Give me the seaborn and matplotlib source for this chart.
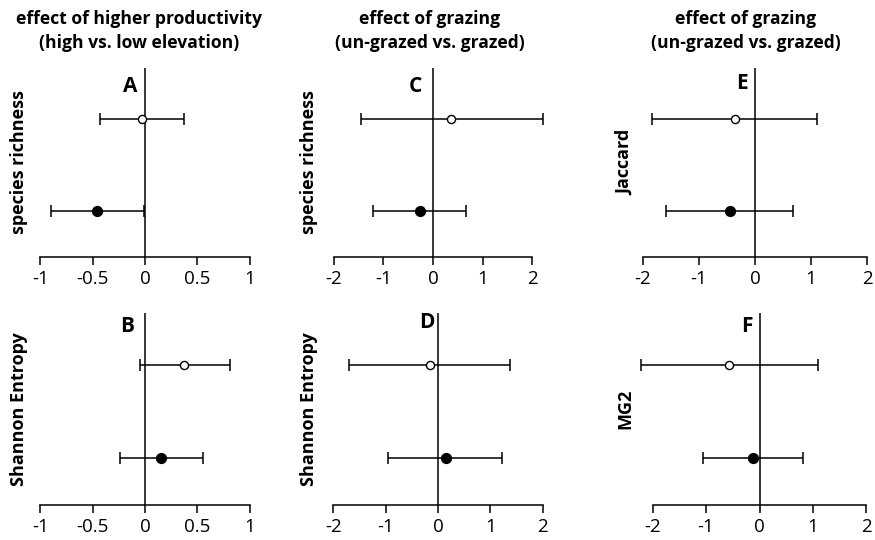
import numpy as np
import pandas as pd
import matplotlib
matplotlib.use('Agg')
import matplotlib.pyplot as plt
import seaborn as sns

# effect sizes with CI, one entry per panel (A..F)
panels = ['A', 'B', 'C', 'D', 'E', 'F']
ylabels = ['species richness', 'Shannon Entropy', 'species richness',
           'Shannon Entropy', 'Jaccard', 'MG2']
titles = ['effect of higher productivity\n(high vs. low elevation)',
          'effect of grazing\n(un-grazed vs. grazed)',
          'effect of grazing\n(un-grazed vs. grazed)']

# upper row of each panel: open circle
open_est = [-0.03, 0.37, 0.36, -0.15, -0.36, -0.57]
open_lo = [-0.43, -0.05, -1.45, -1.70, -1.83, -2.21]
open_hi = [0.37, 0.81, 2.22, 1.37, 1.11, 1.10]
# lower row of each panel: filled circle
filled_est = [-0.46, 0.15, -0.26, 0.15, -0.45, -0.12]
filled_lo = [-0.90, -0.24, -1.21, -0.96, -1.58, -1.05]
filled_hi = [-0.01, 0.55, 0.67, 1.23, 0.68, 0.82]

ticks_small = [-1, -0.5, 0, 0.5, 1]
ticklabels_small = ['-1', '-0.5', '0', '0.5', '1']
ticks_big = [-2, -1, 0, 1, 2]
ticklabels_big = ['-2', '-1', '0', '1', '2']

sns.set_theme(style='white')
plt.rcParams['font.family'] = ['Open Sans', 'DejaVu Sans']
plt.rcParams['axes.unicode_minus'] = False
plt.rcParams['text.color'] = 'black'

W, H = 875, 540
fig = plt.figure(figsize=(8.75, 5.4), dpi=100)

# axes rectangles in pixels: left, top, width, height
rects = [(32, 68, 226, 189), (32, 313, 226, 192),
         (326, 68, 214, 189), (325, 313, 226, 192),
         (634, 68, 242, 189), (644, 313, 231, 192)]
label_px = [19, 19, 309, 309, 625, 625]
letter_px = [(130, 86), (127, 327), (415, 86), (427, 322), (742, 83), (747, 327)]

for i, p in enumerate(panels):
    l, t, w, h = rects[i]
    ax = fig.add_axes([l / W, (H - t - h) / H, w / W, h / H])
    small = i < 2
    lim = 1.08 if small else 2.16
    ax.set_xlim(-lim, lim)
    ax.set_ylim(0.5, 2.55)

    ax.axvline(0, color='black', lw=1.1, zorder=1)

    df = pd.DataFrame({
        'est': [open_est[i], filled_est[i]],
        'lo': [open_lo[i], filled_lo[i]],
        'hi': [open_hi[i], filled_hi[i]],
        'row': [2, 1],
        'kind': ['open', 'filled'],
    })
    eb = ax.errorbar(df['est'], df['row'],
                     xerr=[df['est'] - df['lo'], df['hi'] - df['est']],
                     fmt='none', ecolor='black', elinewidth=1.1,
                     capsize=4.3, capthick=1.1, zorder=2)
    for art in eb.lines[1] + eb.lines[2]:
        art.set_clip_on(False)
    sns.scatterplot(data=df[df['kind'] == 'open'], x='est', y='row', ax=ax,
                    s=34, color='white', edgecolor='black', linewidth=1.0,
                    zorder=3, legend=False)
    sns.scatterplot(data=df[df['kind'] == 'filled'], x='est', y='row', ax=ax,
                    s=50, color='black', edgecolor='black', linewidth=1.0,
                    zorder=3, legend=False)

    for side in ['top', 'right', 'left']:
        ax.spines[side].set_visible(False)
    ax.spines['bottom'].set_color('black')
    ax.spines['bottom'].set_linewidth(1.1)
    ticks = ticks_small if small else ticks_big
    ax.spines['bottom'].set_bounds(ticks[0], ticks[-1])
    ax.set_xticks(ticks)
    ax.set_xticklabels(ticklabels_small if small else ticklabels_big,
                       fontsize=13.5, color='black')
    ax.tick_params(axis='x', bottom=True, direction='out', length=6,
                   width=1.1, color='black', pad=3)
    ax.set_yticks([])
    ax.set_xlabel('')
    ax.set_ylabel('')

    ax.text((label_px[i] - l) / w, 0.5, ylabels[i], transform=ax.transAxes,
            rotation=90, ha='center', va='center', fontsize=13,
            fontweight='bold')
    lx, ly = letter_px[i]
    ax.text((lx - l) / w, (t + h - ly) / h, p, transform=ax.transAxes,
            ha='center', va='center', fontsize=15, fontweight='bold')

title_x = [139, 430, 746]
for j, tt in enumerate(titles):
    fig.text(title_x[j] / W, 1 - 31 / H, tt, ha='center', va='center',
             fontsize=12.6, fontweight='bold', linespacing=1.5)

fig.savefig('out.png', dpi=100)
